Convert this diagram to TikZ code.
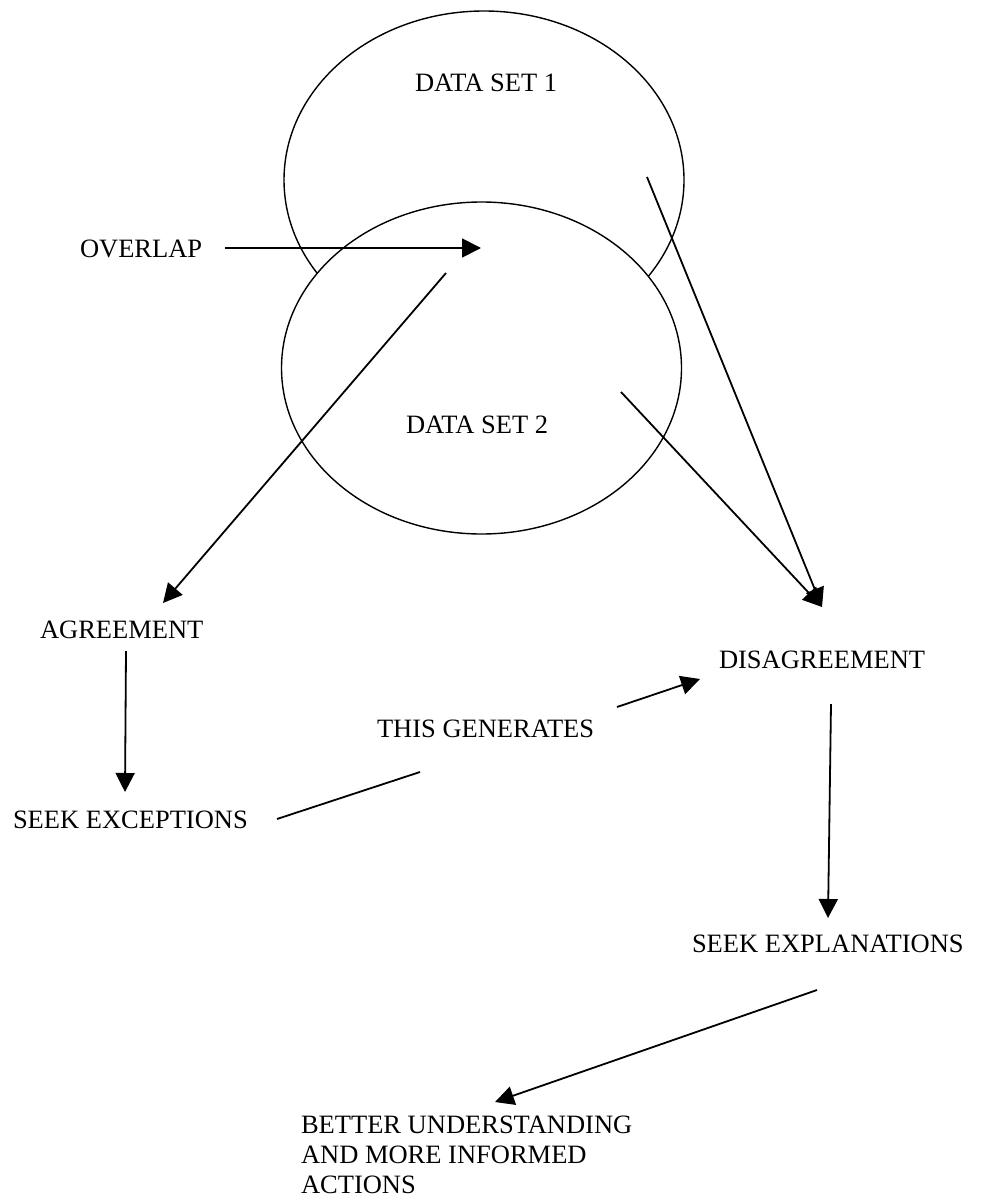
\documentclass[tikz,border=0pt]{standalone}
\usepackage{fontspec}
\setmainfont{Liberation Serif}
\usetikzlibrary{arrows.meta,shapes.geometric}
\begin{document}
\begin{tikzpicture}[x=1pt,y=-1pt,
  txt/.style={anchor=base west, inner sep=0pt, outer sep=0pt,
    font=\fontsize{26.5}{30}\selectfont},
  setshape/.style={ellipse, draw, line width=1.4pt, inner sep=0pt,
    outer sep=0pt, minimum width=400pt},
  link/.style={line width=1.8pt, -{Triangle[length=19pt,width=19pt]}},
  plainlink/.style={line width=1.8pt}]
\useasboundingbox (0,0) rectangle (987,1201);

% the two data sets; the second one covers the lower part of the first
\node[setshape, minimum height=338pt] (set1) at (484,180) {};
\node[setshape, fill=white, minimum height=332pt] (set2) at (481.5,368) {};

% labels
\node[txt] (ds1)   at (415,92)  {DATA SET 1};
\node[txt] (ds2)   at (406,433) {DATA SET 2};
\node[txt] (ovl)   at (80,257)  {OVERLAP};
\node[txt] (agr)   at (40,638)  {AGREEMENT};
\node[txt] (sexc)  at (13,828)  {SEEK EXCEPTIONS};
\node[txt] (gen)   at (377,737) {THIS GENERATES};
\node[txt] (dis)   at (719,668) {DISAGREEMENT};
\node[txt] (sexp)  at (692,952) {SEEK EXPLANATIONS};
\node[anchor=north west, inner sep=0pt, outer sep=0pt, align=left,
  font=\fontsize{26.5}{30}\selectfont] (better) at (301,1116)
  {BETTER UNDERSTANDING\\AND MORE INFORMED\\ACTIONS};

% connector end points
\coordinate (ovl-out)  at (225,248);
\coordinate (ovl-in)   at (481,248);
\coordinate (ovl-src)  at (446,273);
\coordinate (agr-in)   at (163,603);
\coordinate (set1-src) at (647,177);
\coordinate (set2-src) at (621,392);
\coordinate (dis-in)   at (822,607);
\coordinate (agr-out)  at (126,651);
\coordinate (sexc-in)  at (125,792);
\coordinate (sexc-out) at (277,819);
\coordinate (gen-a)    at (420,772);
\coordinate (gen-b)    at (617,707);
\coordinate (dis-in2)  at (700,679);
\coordinate (dis-out)  at (831,704);
\coordinate (sexp-in)  at (828,918);
\coordinate (sexp-out) at (817,990);
\coordinate (better-in) at (495,1102);

% connectors
\draw[link] (ovl-out) -- (ovl-in);
\draw[link] (ovl-src) -- (agr-in);
\draw[link] (set1-src) -- (dis-in);
\draw[link] (set2-src) -- (dis-in);
\draw[link] (agr-out) -- (sexc-in);
\draw[plainlink] (sexc-out) -- (gen-a);
\draw[link] (gen-b) -- (dis-in2);
\draw[link] (dis-out) -- (sexp-in);
\draw[link] (sexp-out) -- (better-in);
\end{tikzpicture}
\end{document}
